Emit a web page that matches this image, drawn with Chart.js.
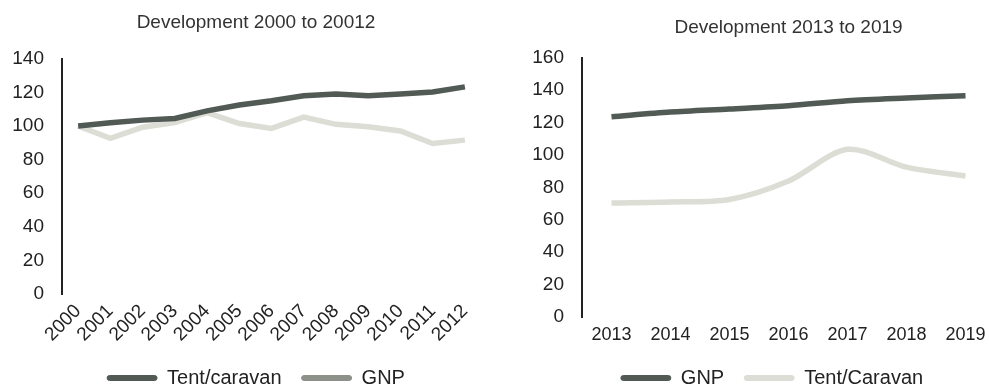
<!DOCTYPE html>
<html>
<head>
<meta charset="utf-8">
<script src="https://cdn.jsdelivr.net/npm/chart.js@4"></script>
<style>
  body { margin: 0; background: #fff; overflow: hidden; }
  .box { position: absolute; top: 0; height: 398px; }
  #leftBox { left: 0; width: 512px; }
  #rightBox { left: 497px; width: 550px; }
</style>
</head>
<body>
<div class="box" id="leftBox"><canvas id="leftChart"></canvas></div>
<div class="box" id="rightBox"><canvas id="rightChart"></canvas></div>
<script>
// Data
const yearsA = ['2000','2001','2002','2003','2004','2005','2006','2007','2008','2009','2010','2011','2012'];
const tentA = [100, 102, 103.5, 104.5, 109, 112.5, 115, 118, 119, 118, 119, 120.3, 123.3];
const gnpA = [100, 92.6, 99.3, 102, 108, 101.5, 98.6, 105.3, 101, 99.5, 97, 89.6, 91.6];

const yearsB = ['2013','2014','2015','2016','2017','2018','2019'];
const gnpB = [123.6, 126.5, 128.4, 130.4, 133.5, 135.2, 136.6];
const tentB = [70.4, 71, 72.5, 83.9, 103.5, 92.5, 87];

const DARK = '#525a56';
const MID = '#8e908a';
const LIGHT = '#dcddd5';

Chart.defaults.font.family = '"Liberation Sans", Arial, sans-serif';
Chart.defaults.color = '#222';
Chart.defaults.animation = false;

// nudge title / legend sideways so they sit where the scan has them
const nudgeBoxes = {
    id: 'nudgeBoxes',
    afterLayout(chart, args, opts) {
        if (opts.legendDx) { chart.legend.left += opts.legendDx; chart.legend.right += opts.legendDx; }
        if (opts.titleDx) { chart.titleBlock.left += opts.titleDx; chart.titleBlock.right += opts.titleDx; }
    }
};

// swatch colours for the legend (left legend shows GNP in mid gray)
function legendMaker(colors) {
    return function(chart) {
        const items = Chart.defaults.plugins.legend.labels.generateLabels(chart);
        items.forEach((it, i) => {
            it.fillStyle = colors[i];
            it.strokeStyle = colors[i];
            it.lineWidth = 1;
        });
        return items;
    };
}

function makeOptions(cfg) {
    return {
        responsive: true,
        maintainAspectRatio: false,
        layout: { padding: { left: 0, right: cfg.padRight, top: 0, bottom: 0 } },
        elements: { point: { radius: 0 } },
        plugins: {
            nudgeBoxes: { legendDx: cfg.legendDx, titleDx: cfg.titleDx },
            title: {
                display: true,
                text: cfg.title,
                font: { size: 19, weight: 'normal' },
                color: '#333',
                fullSize: cfg.titleFull,
                padding: { top: cfg.titleTop, bottom: cfg.titleBottom }
            },
            legend: {
                position: 'bottom',
                labels: {
                    boxWidth: 50,
                    boxHeight: 5,
                    useBorderRadius: true,
                    borderRadius: 2.5,
                    padding: 20,
                    font: { size: 20 },
                    color: '#222',
                    generateLabels: legendMaker(cfg.legendColors)
                }
            },
            tooltip: { enabled: false }
        },
        scales: {
            x: {
                offset: true,
                grid: { display: false, drawTicks: false },
                border: { display: false },
                afterFit: s => { s.height = cfg.xHeight; },
                ticks: {
                    font: { size: cfg.xFont },
                    color: '#222',
                    padding: cfg.xPad,
                    maxRotation: cfg.rotate,
                    minRotation: cfg.rotate,
                    autoSkip: false
                }
            },
            y: {
                min: 0,
                max: cfg.yMax,
                afterFit: s => { s.width = cfg.yWidth; },
                grid: { display: false, drawTicks: false },
                border: { display: true, color: '#222', width: 2 },
                ticks: { stepSize: 20, font: { size: 19 }, color: '#222', padding: 18 }
            }
        }
    };
}

new Chart(document.getElementById('leftChart'), {
    type: 'line',
    data: {
        labels: yearsA,
        datasets: [
            { label: 'Tent/caravan', data: tentA, borderColor: DARK, backgroundColor: DARK, borderWidth: 5.5, tension: 0 },
            { label: 'GNP', data: gnpA, borderColor: LIGHT, backgroundColor: LIGHT, borderWidth: 5.5, tension: 0 }
        ]
    },
    options: makeOptions({
        title: 'Development 2000 to 20012', titleFull: true, titleTop: 11, titleBottom: 25,
        yMax: 140, yWidth: 62, padRight: 31, legendDx: 15.5, titleDx: 15.5,
        xHeight: 54, xFont: 19, xPad: 6, rotate: 45,
        legendColors: [DARK, MID]
    }),
    plugins: [nudgeBoxes]
});

new Chart(document.getElementById('rightChart'), {
    type: 'line',
    data: {
        labels: yearsB,
        datasets: [
            { label: 'GNP', data: gnpB, borderColor: DARK, backgroundColor: DARK, borderWidth: 5.5, tension: 0.3 },
            { label: 'Tent/Caravan', data: tentB, borderColor: LIGHT, backgroundColor: LIGHT, borderWidth: 5.5, tension: 0.3 }
        ]
    },
    options: makeOptions({
        title: 'Development 2013 to 2019', titleFull: false, titleTop: 16, titleBottom: 19,
        yMax: 160, yWidth: 85, padRight: 52, legendDx: 26, titleDx: 0,
        xHeight: 31, xFont: 18, xPad: 7, rotate: 0,
        legendColors: [DARK, LIGHT]
    }),
    plugins: [nudgeBoxes]
});
</script>
</body>
</html>
